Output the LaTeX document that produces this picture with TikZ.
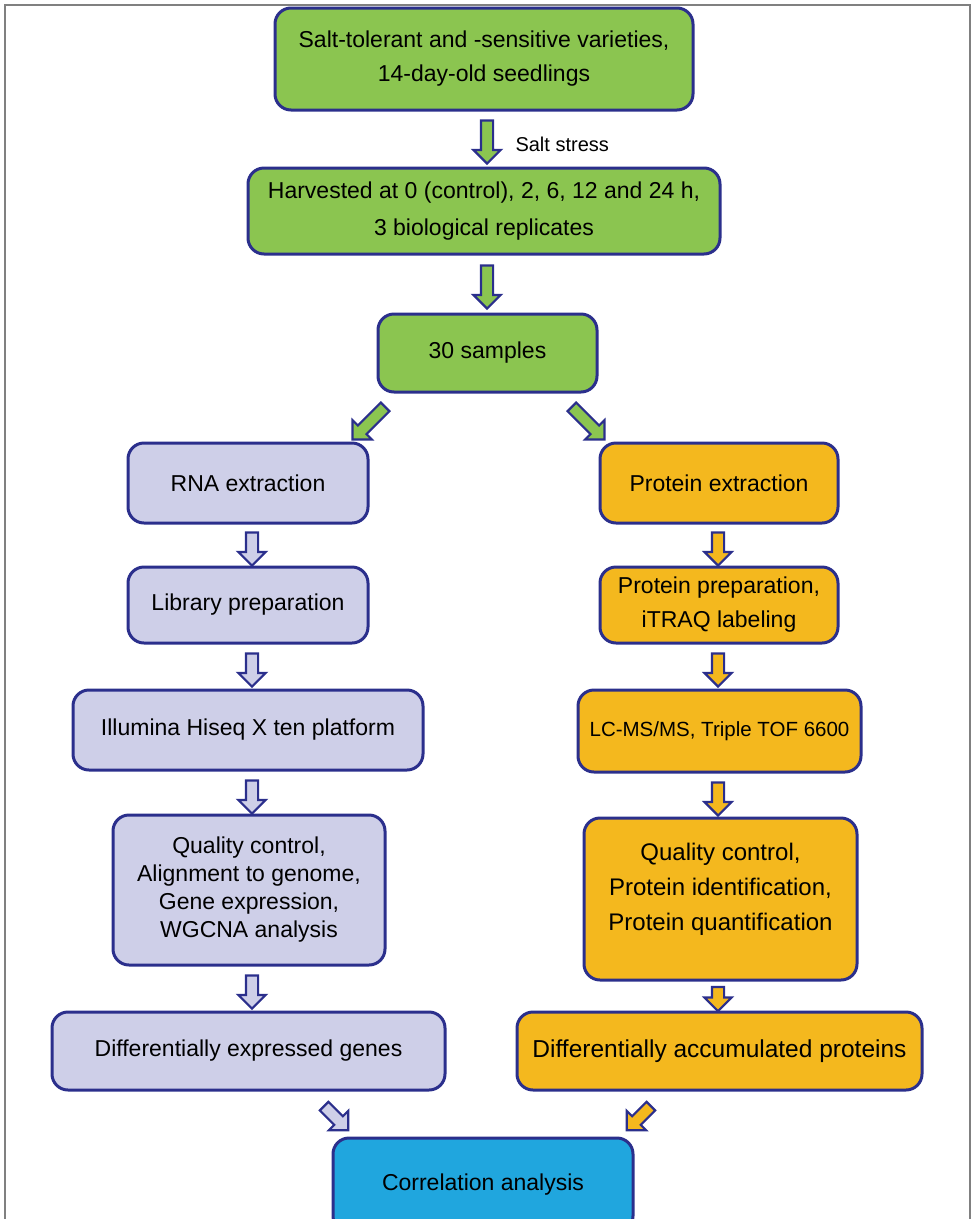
\documentclass[tikz,border=0pt]{standalone}
\usepackage{fontspec}
\setmainfont{Liberation Sans}
\usepackage{xcolor}
\usepackage{tikz}
\usetikzlibrary{shapes.arrows}
\definecolor{navy}{RGB}{43,47,140}
\definecolor{boxgreen}{RGB}{139,197,80}
\definecolor{boxlav}{RGB}{206,207,232}
\definecolor{boxorange}{RGB}{244,184,30}
\definecolor{boxblue}{RGB}{32,166,222}
\newcommand{\boxfont}{\fontsize{23}{34}\selectfont}
\tikzset{
  flowbox/.style = {draw=navy, line width=3pt, rounded corners=16pt,
    align=center, inner sep=0pt, font=\boxfont},
  box_g/.style = {flowbox, fill=boxgreen},% samples, green
  box_l/.style = {flowbox, fill=boxlav},% transcriptome, lavender
  box_o/.style = {flowbox, fill=boxorange},% proteome, orange
  box_b/.style = {flowbox, fill=boxblue},% correlation, blue
  blk/.style = {single arrow, draw=navy, line width=2.2pt, minimum width=25pt,
    single arrow head extend=7.5pt, inner xsep=0pt, inner ysep=5pt},% block arrow
  blk_dn/.style = {blk, rotate=-90}% block arrow, pointing down
}
\begin{document}
\begin{tikzpicture}[x=1pt,y=-1pt]
\useasboundingbox (0,0) rectangle (974,1219);
\draw[gray, line width=2pt] (5,1230) -- (5,5) -- (970,5) -- (970,1230);

% samples
\node [box_g, minimum width=418pt, minimum height=102pt] (seed) at (484,59)
  {Salt-tolerant and -sensitive varieties,\\14-day-old seedlings};
\node [box_g, minimum width=472pt, minimum height=86pt] (harv) at (484,211)
  {Harvested at 0 (control), 2, 6, 12 and 24 h,\\[3pt]3 biological replicates};
\node [box_g, minimum width=219pt, minimum height=78pt] (samp) at (487.5,353)
  {30 samples};

% transcriptome
\node [box_l, minimum width=240pt, minimum height=80pt] (rna) at (248,483)
  {RNA extraction};
\node [box_l, minimum width=240pt, minimum height=76pt] (lib) at (248,605)
  {Library preparation};
\node [box_l, minimum width=350pt, minimum height=80pt] (illu) at (248,730)
  {Illumina Hiseq X ten platform};
\node [box_l, minimum width=272pt, minimum height=150pt,
  font=\fontsize{23}{28}\selectfont] (qcl) at (249,890)
  {Quality control,\\Alignment to genome,\\Gene expression,\\WGCNA analysis};
\node [box_l, minimum width=393pt, minimum height=78pt] (deg) at (248.5,1051)
  {Differentially expressed genes};

% proteome
\node [box_o, minimum width=238pt, minimum height=80pt] (prot) at (719,483)
  {Protein extraction};
\node [box_o, minimum width=238pt, minimum height=76pt] (prep) at (719,605)
  {Protein preparation,\\iTRAQ labeling};
\node [box_o, minimum width=283pt, minimum height=82pt,
  font=\fontsize{20.5}{30}\selectfont] (lcms) at (719.5,731)
  {LC-MS/MS, Triple TOF 6600};
\node [box_o, minimum width=273pt, minimum height=162pt, text depth=25pt,
  font=\fontsize{24}{35}\selectfont] (qcr) at (720.5,899)
  {Quality control,\\Protein identification,\\Protein quantification};
\node [box_o, minimum width=405pt, minimum height=78pt,
  font=\fontsize{24.5}{35}\selectfont] (dap) at (719.5,1051)
  {Differentially accumulated proteins};

\node [box_b, minimum width=300pt, minimum height=94pt] (corr) at (483,1185)
  {Correlation analysis};

% block arrows
\node [blk_dn, fill=boxgreen, minimum height=43pt] (a1) at (487,139) {};
\node [font=\fontsize{20}{24}\selectfont, anchor=west] (stress) at (512,144) {Salt stress};
\node [blk_dn, fill=boxgreen, minimum height=43pt] (a2) at (487,284) {};
\node [blk, fill=boxgreen, minimum height=46pt, rotate=-135] (a3) at (371,421) {};
\node [blk, fill=boxgreen, minimum height=46pt, rotate=-45] (a4) at (586,421) {};

\node [blk_dn, fill=boxlav, minimum height=33pt] (l1) at (252,546) {};
\node [blk_dn, fill=boxlav, minimum height=33pt] (l2) at (252,667) {};
\node [blk_dn, fill=boxlav, minimum height=33pt] (l3) at (252,794) {};
\node [blk_dn, fill=boxlav, minimum height=33pt] (l4) at (252,989) {};
\node [blk, fill=boxlav, minimum height=34pt, rotate=-45] (l5) at (334,1116) {};

\node [blk_dn, fill=boxorange, minimum height=33pt] (r1) at (718,546) {};
\node [blk_dn, fill=boxorange, minimum height=33pt] (r2) at (718,667) {};
\node [blk_dn, fill=boxorange, minimum height=33pt] (r3) at (718,796) {};
\node [blk_dn, fill=boxorange, minimum height=24pt] (r4) at (718,996) {};
\node [blk, fill=boxorange, minimum height=34pt, rotate=-135] (r5) at (641,1116) {};
\end{tikzpicture}
\end{document}
